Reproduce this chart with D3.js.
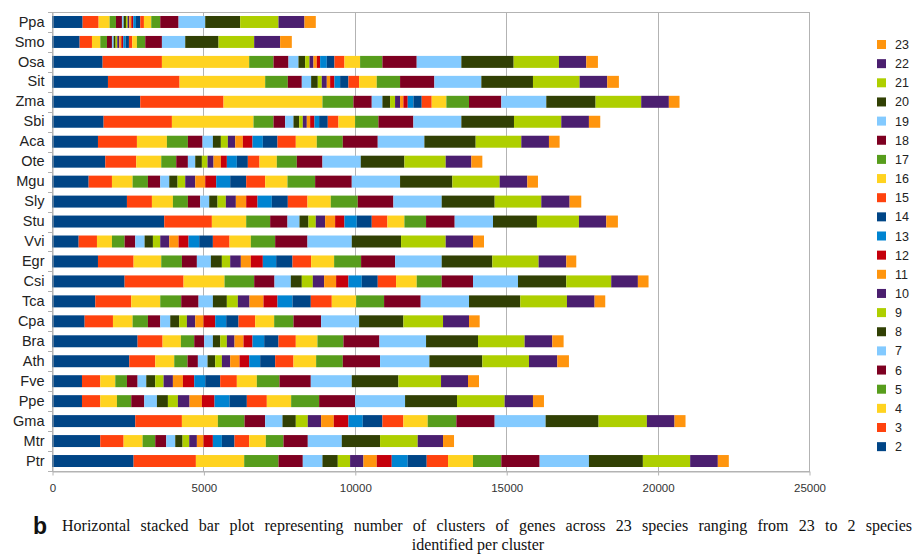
<!DOCTYPE html>
<html>
<head>
<meta charset="utf-8">
<script src="https://cdn.jsdelivr.net/npm/d3@7"></script>
<style>
  html, body { margin: 0; padding: 0; background: #fff; }
  svg { display: block; }
</style>
</head>
<body>
<svg id="chart" width="919" height="558"></svg>
<script>
// Species shown on the vertical axis, top to bottom
const species = ["Ppa","Smo","Osa","Sit","Zma","Sbi","Aca","Ote","Mgu","Sly","Stu","Vvi",
                 "Egr","Csi","Tca","Cpa","Bra","Ath","Fve","Ppe","Gma","Mtr","Ptr"];

// Cluster categories: number of species sharing a cluster (stack order left to right)
const clusterSizes = ["2","3","4","5","6","7","8","9","10","11","12","13",
                      "14","15","16","17","18","19","20","21","22","23"];

const xTicks = [0, 5000, 10000, 15000, 20000, 25000];

// Cluster counts per species, in clusterSizes order (2 … 23)
const Ppa = [1012,528,363,209,198,55,77,55,55,66,66,88,143,121,242,297,605,880,1155,1265,858,374];
const Smo = [913,407,275,220,165,55,66,55,66,66,66,77,110,110,154,275,550,770,1100,1177,858,385];
const Osa = [1672,1958,2882,803,495,330,220,143,132,110,110,220,253,330,517,737,1133,1474,1727,1496,902,385];
const Sit = [1848,2365,2827,748,462,308,220,132,165,110,143,187,275,352,583,770,1133,1551,1705,1540,913,385];
const Zma = [2915,2750,3267,1023,605,352,253,165,165,110,143,187,275,330,484,748,1067,1485,1628,1507,913,352];
const Sbi = [1705,2255,2695,660,385,275,187,121,132,110,143,154,286,352,550,770,1155,1584,1738,1562,913,374];
const Aca = [1518,1287,990,693,484,341,264,231,242,253,319,341,484,605,693,858,1155,1540,1694,1507,913,352];
const Ote = [1760,1023,825,495,385,242,220,187,198,242,198,330,363,385,572,660,847,1265,1441,1364,847,363];
const Mgu = [1210,770,682,506,407,297,275,253,330,330,363,462,528,627,737,913,1210,1595,1727,1562,913,352];
const Sly = [2475,825,693,495,407,297,275,275,330,341,374,473,528,649,770,891,1177,1595,1749,1540,935,385];
const Stu = [3707,1573,1133,792,572,396,297,242,308,330,308,407,495,517,561,715,946,1265,1452,1386,902,385];
const Vvi = [880,605,495,418,352,308,275,242,297,308,330,352,451,550,704,803,1067,1463,1628,1474,902,363];
const Egr = [1518,1177,913,682,495,462,363,275,352,330,396,440,539,616,759,891,1122,1540,1672,1529,913,330];
const Csi = [2398,1947,1353,979,671,539,363,363,374,396,407,440,528,605,682,825,1034,1485,1595,1485,880,352];
const Tca = [1430,1188,957,693,572,473,462,363,385,462,462,495,605,693,803,924,1210,1595,1694,1540,913,352];
const Cpa = [1078,935,649,506,407,330,297,253,275,275,385,363,407,550,627,638,913,1254,1463,1309,858,352];
const Bra = [2827,825,605,440,330,286,242,220,253,297,297,385,473,572,715,858,1188,1540,1716,1540,913,374];
const Ath = [2552,858,627,440,341,319,253,220,275,308,319,363,495,605,748,880,1232,1628,1749,1540,935,385];
const Fve = [990,605,495,385,352,286,297,275,308,330,374,363,495,550,660,748,1034,1353,1540,1408,891,363];
const Ppe = [990,605,550,473,429,418,363,330,385,407,418,495,572,660,803,924,1188,1650,1716,1573,935,363];
const Gma = [2750,1540,1188,880,682,572,440,396,440,418,484,473,649,693,803,946,1265,1683,1749,1595,913,363];
const Mtr = [1595,770,627,418,363,297,242,220,253,220,308,297,418,484,550,583,803,1122,1265,1243,836,363];
const Ptr = [2695,2057,1595,1133,803,649,506,407,440,440,495,528,627,704,825,935,1265,1628,1782,1562,913,363];

const speciesCounts = [Ppa,Smo,Osa,Sit,Zma,Sbi,Aca,Ote,Mgu,Sly,Stu,Vvi,Egr,Csi,Tca,Cpa,Bra,Ath,Fve,Ppe,Gma,Mtr,Ptr];

// Office-style 12-colour palette, cycled over the cluster sizes
const palette = ["#004586","#ff420e","#ffd320","#579d1c","#7e0021","#83caff",
                 "#314004","#aecf00","#4b1f6f","#ff950e","#c5000b","#0084d1"];

// Table: one record per species, one column per cluster size
const table = species.map((name, i) => {
  const rec = { species: name };
  clusterSizes.forEach((k, j) => { rec[k] = speciesCounts[i][j]; });
  return rec;
});

const svg = d3.select("#chart");
const margin = { left: 52, right: 809, top: 12, bottom: 471 };

const x = d3.scaleLinear().domain([0, 25000]).range([margin.left, margin.right]);
const y = d3.scaleBand().domain(species).range([margin.top, margin.bottom])
  .paddingInner(0.4).paddingOuter(0.2);
const color = d3.scaleOrdinal().domain(clusterSizes)
  .range(clusterSizes.map((k, j) => palette[j % palette.length]));

const gridColor = "#b3b3b3";

// Plot frame and vertical grid lines
svg.append("rect")
  .attr("x", margin.left + 0.5).attr("y", margin.top + 0.5)
  .attr("width", margin.right - margin.left).attr("height", margin.bottom - margin.top)
  .attr("fill", "none").attr("stroke", gridColor).attr("stroke-width", 1);

svg.append("g").selectAll("line").data(xTicks.slice(1)).join("line")
  .attr("x1", d => Math.round(x(d)) + 0.5).attr("x2", d => Math.round(x(d)) + 0.5)
  .attr("y1", margin.top).attr("y2", margin.bottom)
  .attr("stroke", gridColor).attr("stroke-width", 1);

// Stacked bars
const series = d3.stack().keys(clusterSizes)(table);

svg.append("g").selectAll("g").data(series).join("g")
  .attr("fill", d => color(d.key))
  .selectAll("rect").data(d => d).join("rect")
  .attr("x", d => x(d[0]))
  .attr("y", d => y(d.data.species))
  .attr("width", d => x(d[1]) - x(d[0]))
  .attr("height", y.bandwidth());

// Bottom axis
const xAxis = d3.axisBottom(x).tickValues(xTicks).tickFormat(d3.format("d"))
  .tickSizeInner(4).tickSizeOuter(0).tickPadding(8);
const gx = svg.append("g").attr("transform", `translate(0.5,${margin.bottom + 0.5})`).call(xAxis);
gx.select(".domain").attr("stroke", gridColor);
gx.selectAll(".tick line").attr("stroke", gridColor);
gx.selectAll(".tick text").attr("fill", "#333").style("font-family", "'Liberation Sans', Arial, sans-serif").style("font-size", "11.5px");

// Left axis with species labels
const yAxis = d3.axisLeft(y).tickSize(0).tickPadding(8);
const gy = svg.append("g").attr("transform", `translate(${margin.left + 0.5},0)`).call(yAxis);
gy.select(".domain").attr("stroke", gridColor);
gy.selectAll(".tick text").attr("fill", "#222").style("font-family", "'Liberation Sans', Arial, sans-serif").style("font-size", "14.5px");

// Small ticks at category boundaries
svg.append("g").selectAll("line").data(d3.range(species.length + 1)).join("line")
  .attr("x1", margin.left - 4).attr("x2", margin.left)
  .attr("y1", i => Math.round(margin.top + i * y.step()) + 0.5)
  .attr("y2", i => Math.round(margin.top + i * y.step()) + 0.5)
  .attr("stroke", gridColor);

// Legend, largest cluster size at the top
const legendKeys = clusterSizes.slice().reverse();
const legend = svg.append("g").attr("transform", "translate(877,40)");
const item = legend.selectAll("g").data(legendKeys).join("g")
  .attr("transform", (d, i) => `translate(0,${i * 19.15})`);
item.append("rect").attr("width", 9).attr("height", 9).attr("fill", d => color(d));
item.append("text").attr("x", 18).attr("y", 9).text(d => d)
  .attr("fill", "#222")
  .style("font-family", "'Liberation Sans', Arial, sans-serif").style("font-size", "12.5px");

// Caption: bold panel letter, justified first line, centred last line
svg.append("text").attr("x", 33).attr("y", 534).text("b")
  .style("font-family", "'Liberation Sans', Arial, sans-serif")
  .style("font-weight", "bold").style("font-size", "23px").attr("fill", "#111");

const captionLine1 = "Horizontal stacked bar plot representing number of clusters of genes across 23 species ranging from 23 to 2 species";
const line1 = svg.append("text").attr("x", 62).attr("y", 531)
  .text(captionLine1)
  .style("font-family", "'Liberation Serif', 'Times New Roman', serif")
  .style("font-size", "16px").attr("fill", "#111");
// justify: spread the remaining width over the word gaps
const lineWidth = 850;
const natural = line1.node().getComputedTextLength();
const gaps = captionLine1.split(" ").length - 1;
if (natural < lineWidth && gaps > 0) {
  line1.style("word-spacing", ((lineWidth - natural) / gaps) + "px");
}

svg.append("text").attr("x", 478).attr("y", 550).attr("text-anchor", "middle")
  .text("identified per cluster")
  .style("font-family", "'Liberation Serif', 'Times New Roman', serif")
  .style("font-size", "16px").attr("fill", "#111");
</script>
</body>
</html>
